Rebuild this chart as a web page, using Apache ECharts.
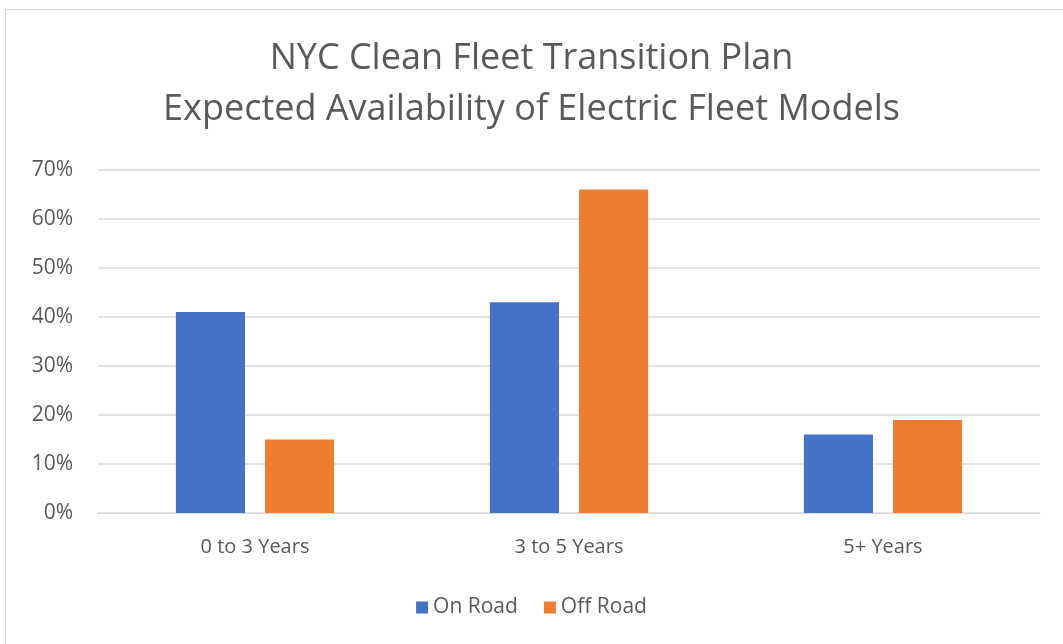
<!DOCTYPE html>
<html>
<head>
<meta charset="utf-8">
<script src="https://cdn.jsdelivr.net/npm/echarts@6/dist/echarts.min.js"></script>
<style>html,body{margin:0;padding:0;background:#fff}#c{width:1063px;height:644px}</style>
</head>
<body>
<div id="c"></div>
<script>
const categories = ['0 to 3 Years', '3 to 5 Years', '5+ Years'];
const onRoad = [41, 43, 16];
const offRoad = [15, 66, 19];
const seriesNames = ['On Road', 'Off Road'];
const titleLines = ['NYC Clean Fleet Transition Plan', 'Expected Availability of Electric Fleet Models'];

const FONT = 'Open Sans';
const chart = echarts.init(document.getElementById('c'));
chart.setOption({
  backgroundColor: '#fff',
  animation: false,
  textStyle: { fontFamily: FONT },
  graphic: [{
    type: 'rect', shape: { x: 5.5, y: 9.5, width: 1100, height: 700 },
    style: { fill: 'none', stroke: '#d9d9d9', lineWidth: 1 }, silent: true
  }],
  title: {
    text: titleLines.join('\n'),
    left: 'center', top: 28,
    textStyle: { fontFamily: FONT, fontSize: 36, fontWeight: 'normal', color: '#595959', lineHeight: 51 }
  },
  legend: {
    data: seriesNames, bottom: 21, left: 'center',
    icon: 'rect', itemWidth: 12, itemHeight: 12, itemGap: 26,
    textStyle: { fontFamily: FONT, fontSize: 21, color: '#595959' }
  },
  grid: { left: 98, right: 23, top: 170, bottom: 131 },
  xAxis: {
    type: 'category', data: categories,
    axisLine: { lineStyle: { color: '#d9d9d9' } },
    axisTick: { show: false },
    axisLabel: { fontFamily: FONT, fontSize: 20, color: '#595959', margin: 24 }
  },
  yAxis: {
    type: 'value', min: 0, max: 70, interval: 10,
    axisLabel: { formatter: '{value}%', fontFamily: FONT, fontSize: 21, color: '#595959', margin: 25 },
    splitLine: { lineStyle: { color: '#d9d9d9', width: 1.5 } },
    axisLine: { show: false }, axisTick: { show: false }
  },
  series: [
    { name: seriesNames[0], type: 'bar', data: onRoad, barWidth: '22%', barGap: '29%', itemStyle: { color: '#4472c4' } },
    { name: seriesNames[1], type: 'bar', data: offRoad, barWidth: '22%', barGap: '29%', itemStyle: { color: '#ed7d31' } }
  ]
});
</script>
</body>
</html>
